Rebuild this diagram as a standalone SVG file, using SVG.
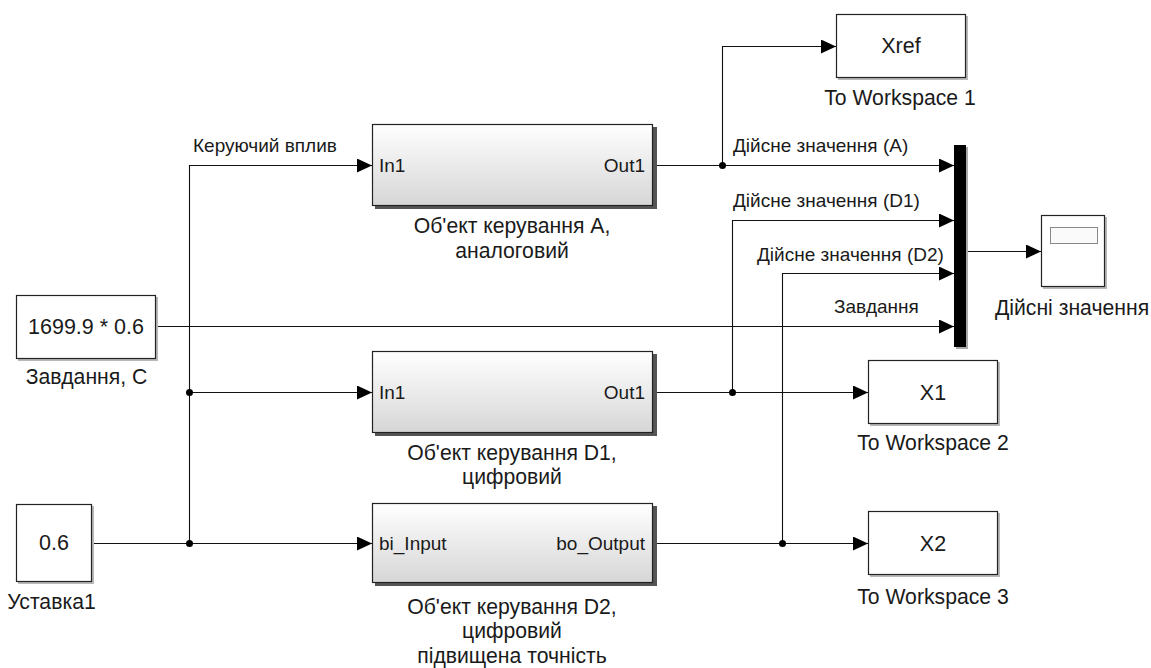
<svg xmlns="http://www.w3.org/2000/svg" width="1151" height="668" viewBox="0 0 1151 668">
  <defs>
    <linearGradient id="subsysFill" x1="0" y1="0" x2="0" y2="1">
      <stop offset="0" stop-color="#ffffff"/>
      <stop offset="1" stop-color="#d6d6d6"/>
    </linearGradient>
    <marker id="arrow" viewBox="0 0 15 14" refX="15" refY="7" markerWidth="15" markerHeight="14" markerUnits="userSpaceOnUse" orient="auto">
      <path d="M0,0 L15,7 L0,14 Z" fill="#000"/>
    </marker>
  </defs>
  <style>
    text { font-family: "Liberation Sans", Arial, sans-serif; fill: #1a1a1a; }
    .lbl { font-size: 21.2px; text-anchor: middle; }
    .sig { font-size: 19px; }
    .port { font-size: 19px; }
    .val { font-size: 21.5px; text-anchor: middle; }
    .blk { fill: #ffffff; stroke: #222; stroke-width: 1.2; }
    .shadow { fill: #b8b8b8; }
    .subsys { fill: url(#subsysFill); stroke: #222; stroke-width: 1.2; }
    .subshadow { fill: #555; }
    .wire { fill: none; stroke: #111; stroke-width: 1.1; }
    .dot { fill: #000; }
  </style>

  <rect width="1151" height="668" fill="#ffffff"/>

  <!-- signal lines -->
  <g id="connectors">
    <!-- setpoint feeding the three plant models -->
    <path class="wire" d="M92.5,543.5 H372" marker-end="url(#arrow)"/>
    <path class="wire" d="M189.5,543.5 V165.5 H372" marker-end="url(#arrow)"/>
    <path class="wire" d="M189.5,392.5 H372" marker-end="url(#arrow)"/>
    <!-- analog plant output -->
    <path class="wire" d="M653,165.5 H954" marker-end="url(#arrow)"/>
    <path class="wire" d="M722.5,165.5 V46.5 H836" marker-end="url(#arrow)"/>
    <!-- digital plant D1 output -->
    <path class="wire" d="M653,392.5 H868" marker-end="url(#arrow)"/>
    <path class="wire" d="M732.5,392.5 V220.5 H954" marker-end="url(#arrow)"/>
    <!-- digital plant D2 output -->
    <path class="wire" d="M653,543.5 H868" marker-end="url(#arrow)"/>
    <path class="wire" d="M782.5,543.5 V273.5 H954" marker-end="url(#arrow)"/>
    <!-- reference value -->
    <path class="wire" d="M156,326.5 H954" marker-end="url(#arrow)"/>
    <!-- mux to scope -->
    <path class="wire" d="M966,251.5 H1041" marker-end="url(#arrow)"/>
    <!-- branch points -->
    <circle class="dot" cx="189.5" cy="543.5" r="3.5"/>
    <circle class="dot" cx="189.5" cy="392.5" r="3.5"/>
    <circle class="dot" cx="722.5" cy="165.5" r="3.5"/>
    <circle class="dot" cx="732.5" cy="392.5" r="3.5"/>
    <circle class="dot" cx="782.5" cy="543.5" r="3.5"/>
    <!-- signal names -->
    <text class="sig" x="193" y="152">Керуючий вплив</text>
    <text class="sig" x="733" y="152">Дійсне значення (A)</text>
    <text class="sig" x="733" y="207">Дійсне значення (D1)</text>
    <text class="sig" x="757" y="261">Дійсне значення (D2)</text>
    <text class="sig" x="834" y="313">Завдання</text>
  </g>

  <!-- constant: reference value -->
  <g id="const_ref">
    <rect class="shadow" x="18" y="297" width="140" height="64"/>
    <rect class="blk" x="16.5" y="295.5" width="139" height="63"/>
    <text class="val" x="86" y="334">1699.9 * 0.6</text>
    <text class="lbl" x="86.5" y="384">Завдання, С</text>
  </g>

  <!-- constant: setpoint -->
  <g id="const_setpoint">
    <rect class="shadow" x="18" y="506" width="76" height="78"/>
    <rect class="blk" x="16.5" y="504.5" width="75" height="77"/>
    <text class="val" x="54" y="550">0.6</text>
    <text class="lbl" x="51.5" y="609">Уставка1</text>
  </g>

  <!-- analog plant -->
  <g id="plant_A">
    <rect class="subshadow" x="375" y="127" width="282" height="82"/>
    <rect class="subsys" x="372.5" y="124.5" width="280" height="81"/>
    <text class="port" x="379" y="172">In1</text>
    <text class="port" x="645" y="172" text-anchor="end">Out1</text>
    <text class="lbl" x="512" y="233">Об'ект керування А,</text>
    <text class="lbl" x="512" y="258">аналоговий</text>
  </g>

  <!-- digital plant D1 -->
  <g id="plant_D1">
    <rect class="subshadow" x="375" y="354" width="282" height="82"/>
    <rect class="subsys" x="372.5" y="351.5" width="280" height="81"/>
    <text class="port" x="379" y="399">In1</text>
    <text class="port" x="645" y="399" text-anchor="end">Out1</text>
    <text class="lbl" x="512" y="460">Об'ект керування D1,</text>
    <text class="lbl" x="512" y="484">цифровий</text>
  </g>

  <!-- digital plant D2 -->
  <g id="plant_D2">
    <rect class="subshadow" x="375" y="506" width="282" height="80"/>
    <rect class="subsys" x="372.5" y="503.5" width="280" height="79"/>
    <text class="port" x="379" y="550">bi_Input</text>
    <text class="port" x="645" y="550" text-anchor="end">bo_Output</text>
    <text class="lbl" x="512" y="614">Об'ект керування D2,</text>
    <text class="lbl" x="512" y="638">цифровий</text>
    <text class="lbl" x="512" y="663">підвищена точність</text>
  </g>

  <!-- workspace outputs -->
  <g id="ws_xref">
    <rect class="shadow" x="838" y="16" width="130" height="64"/>
    <rect class="blk" x="836.5" y="14.5" width="129" height="63"/>
    <text class="val" x="901" y="53">Xref</text>
    <text class="lbl" x="900" y="105">To Workspace 1</text>
  </g>

  <g id="ws_x1">
    <rect class="shadow" x="870" y="362" width="130" height="64"/>
    <rect class="blk" x="868.5" y="360.5" width="129" height="63"/>
    <text class="val" x="933" y="400">X1</text>
    <text class="lbl" x="933" y="450">To Workspace 2</text>
  </g>

  <g id="ws_x2">
    <rect class="shadow" x="870" y="513" width="130" height="64"/>
    <rect class="blk" x="868.5" y="511.5" width="129" height="63"/>
    <text class="val" x="933" y="551">X2</text>
    <text class="lbl" x="933" y="604">To Workspace 3</text>
  </g>

  <!-- mux bar -->
  <g id="mux">
    <rect x="956" y="147" width="12" height="202" fill="#aaa"/>
    <rect x="954" y="145" width="12" height="202" fill="#000"/>
  </g>

  <!-- scope -->
  <g id="scope">
    <rect class="shadow" x="1043" y="217" width="64" height="72"/>
    <rect class="blk" x="1041.5" y="215.5" width="63" height="71"/>
    <rect x="1050.5" y="227.5" width="47" height="16" fill="#fafafa" stroke="#888" stroke-width="1"/>
    <text class="lbl" x="1072" y="315">Дійсні значення</text>
  </g>
</svg>
